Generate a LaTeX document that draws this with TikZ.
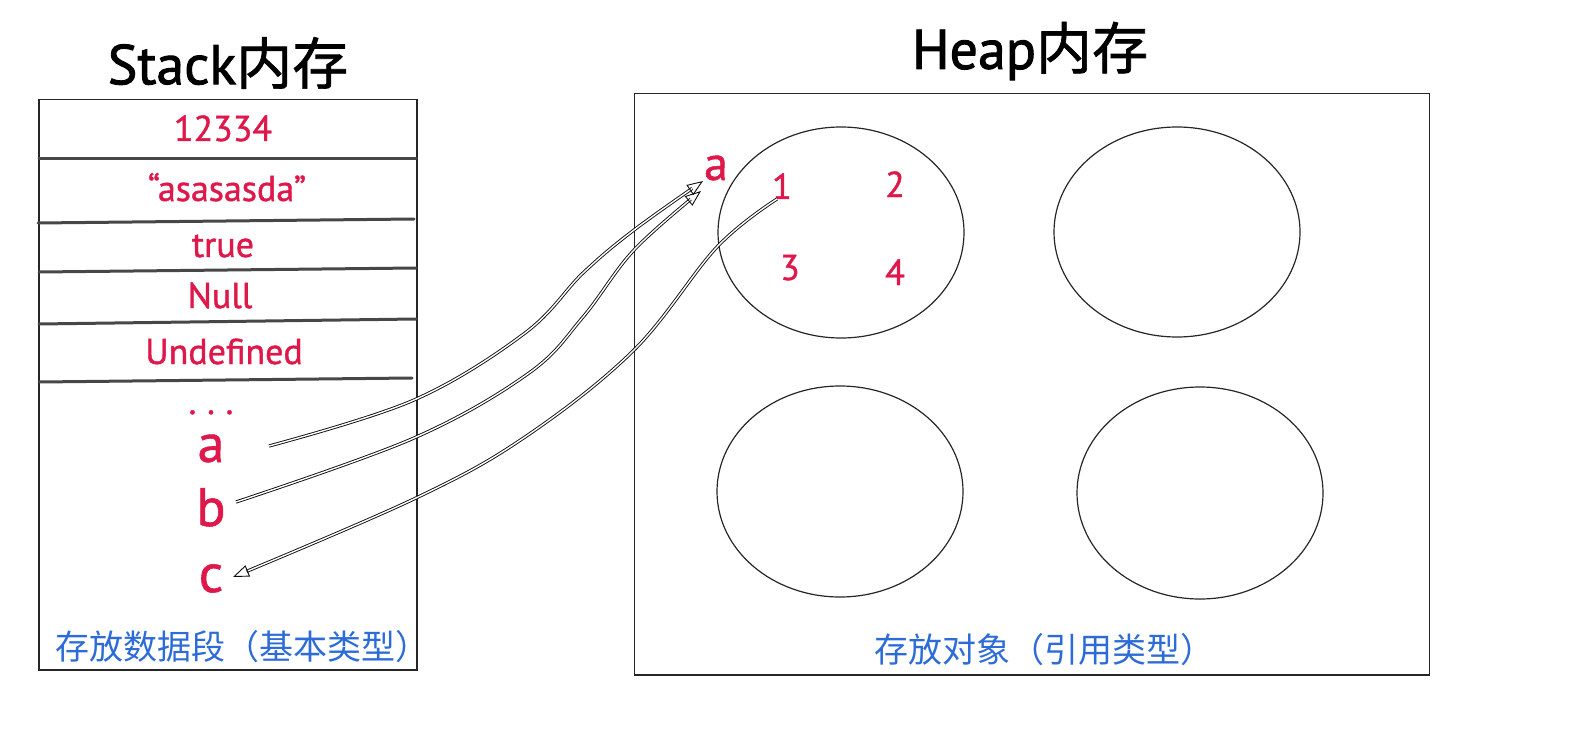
\documentclass[tikz,border=0pt]{standalone}
\usepackage{fontspec}
\setmainfont{PT Sans}
\newfontface\redsans{PT Sans}[FakeBold=1.1]
\newfontface\ttlsans{PT Sans}[FakeBold=1.6]
\newfontfamily\cjk{Noto Sans CJK SC}
\newfontface\cjkttl{Noto Sans CJK SC}[FakeBold=1.2]
\usetikzlibrary{arrows.meta}
\definecolor{myred}{RGB}{222,24,74}
\definecolor{myblue}{RGB}{45,108,214}
\begin{document}
\begin{tikzpicture}[x=1pt,y=-1pt,
  box/.style={draw=black!85, line width=1.2pt},
  rowsep/.style={draw=black!72, line width=3pt, line cap=round},
  ell/.style={draw=black!85, line width=1.2pt},
  ttl/.style={font=\ttlsans\fontsize{56}{60}\selectfont, text=black, inner sep=0pt},
  val/.style={font=\redsans\fontsize{36}{40}\selectfont, text=myred, anchor=base, inner sep=0pt},
  var/.style={font=\redsans\fontsize{54}{58}\selectfont, text=myred, anchor=base, inner sep=0pt},
  num/.style={font=\redsans\fontsize{36}{40}\selectfont, text=myred, anchor=base, inner sep=0pt},
  notelabel/.style={font=\cjk\fontsize{34}{37}\selectfont, text=myblue, inner sep=0pt},
  refarrow/.style={draw=black!95, line width=0.9pt, double=white, double distance=1.4pt,
    -{Triangle[open, length=16pt, width=12pt]}},
]
\useasboundingbox (0,0) rectangle (1592,738);
% titles
\node[ttl] (stitle) at (228,63) {Stack{\cjkttl 内存}};
\node[ttl] (htitle) at (1030,51) {Heap{\cjkttl 内存}};
% stack box
\draw[box] (39,99.5) rectangle (417,670);
\draw[rowsep] (39,159) -- (416,159);
\draw[rowsep] (38,223) -- (414,219);
\draw[rowsep] (39,272) -- (416,268);
\draw[rowsep] (39,324) -- (416,319);
\draw[rowsep] (39,382) -- (412,378);
\node[val] (v1) at (223,141) {12334};
\node[val] (v2) at (227,201) {“asasasda”};
\node[val] (v3) at (223,257) {true};
\node[val] (v4) at (220,308) {Null};
\node[val] (v5) at (224,364) {Undefined};
\node[val] (v6) at (211,414) {.\hspace{0.3em}.\hspace{0.3em}.};
\node[var] (va) at (211,462) {a};
\node[var] (vb) at (211,526) {b};
\node[var] (vc) at (211,592) {c};
\node[notelabel] (snote) at (242,647) {存放数据段（基本类型）};
% heap box
\draw[box] (634.5,93.5) rectangle (1429.5,675);
\draw[ell] (841,232.5) ellipse [x radius=123, y radius=105.5];
\draw[ell] (1177,232) ellipse [x radius=123, y radius=105];
\draw[ell] (840,491.5) ellipse [x radius=123, y radius=105.5];
\draw[ell] (1200,493) ellipse [x radius=123, y radius=106];
\node[var, font=\redsans\fontsize{48}{52}\selectfont] (ha) at (716,180) {a};
\node[num] (h1) at (782,199) {1};
\node[num] (h2) at (895,197) {2};
\node[num] (h3) at (790,280) {3};
\node[num] (h4) at (895,285) {4};
\node[notelabel] (hnote) at (1044.5,650) {存放对象（引用类型）};
% references
\coordinate (sa) at (269,446);
\coordinate (sb) at (236,502);
\coordinate (ta) at (703,181);
\coordinate (tb) at (701,191);
\coordinate (sc) at (777,199);
\coordinate (tc) at (233,577);
\draw[refarrow] plot[smooth, tension=0.6] coordinates {(sa) (414,400) (525,333) (583,273) (634,230) (ta)};
\draw[refarrow] plot[smooth, tension=0.6] coordinates {(sb) (414,438) (529,373) (583,317) (634,250) (tb)};
\draw[refarrow] plot[smooth, tension=0.6] coordinates {(sc) (717,247) (634,350) (525,437) (416,498) (tc)};
\end{tikzpicture}
\end{document}
